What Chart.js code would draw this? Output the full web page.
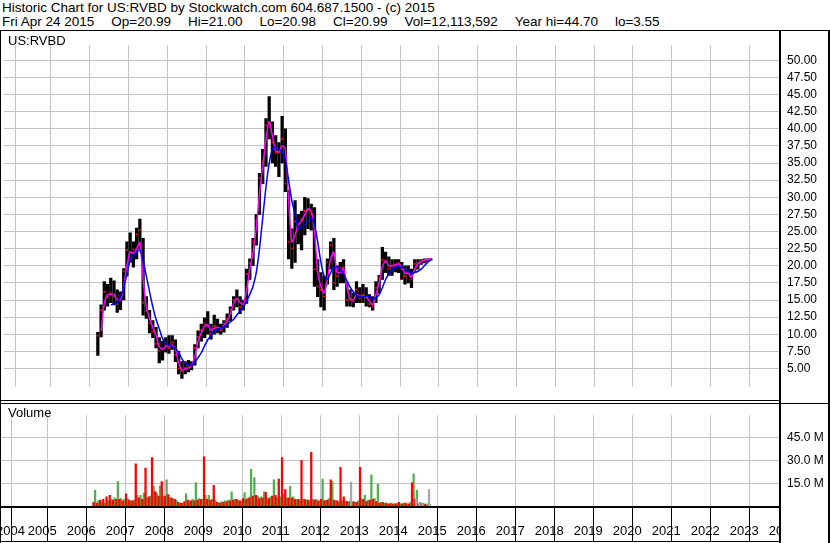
<!DOCTYPE html>
<html lang="en">
<head>
<meta charset="UTF-8">
<title>Historic Chart US:RVBD</title>
<script src="https://cdn.jsdelivr.net/npm/chart.js@4.4.1/dist/chart.umd.min.js"></script>
<style>
	body{margin:0;background:#fff;font-family:"Liberation Sans",Arial,sans-serif;}
	#page{position:relative;width:830px;height:543px;overflow:hidden;background:#fff;}
	.hd{position:absolute;left:2px;font-size:13.5px;line-height:14px;white-space:pre;color:#000;}
	.hd span{margin-left:17px;}
	.hd span:first-child{margin-left:0;}
	#topline{position:absolute;left:0;top:30px;width:830px;height:1px;background:#000;}
	.box{position:absolute;left:0;}
	.tag{position:absolute;left:8px;font-size:13px;color:#000;z-index:2;}
</style>
</head>
<body>
<div id="page">
	<div class="hd" style="top:1px">Historic Chart for US:RVBD by Stockwatch.com 604.687.1500 - (c) 2015</div>
	<div class="hd" style="top:15px"><span>Fri Apr 24 2015</span><span>Op=20.99</span><span>Hi=21.00</span><span>Lo=20.98</span><span>Cl=20.99</span><span>Vol=12,113,592</span><span>Year hi=44.70</span><span>lo=3.55</span></div>
	<div id="topline"></div>
	<div class="box" style="top:31px"><canvas id="priceChart" width="830" height="370"></canvas></div>
	<div class="box" style="top:401px"><canvas id="volChart" width="830" height="142"></canvas></div>
	<div class="tag" style="top:33px">US:RVBD</div>
	<div class="tag" style="top:405px">Volume</div>
</div>
<script>
// monthly bars, first month is Sep 2006
var FIRST_MONTH = '2006-09';

var PRICE_LO = [
	6.9, 9.6, 13.5, 14.1,
	14.6, 14.3, 13.2, 13.6, 15.0, 18.5, 20.5, 19.8, 21.0, 22.5, 12.8, 12.3,
	10.2, 9.5, 8.0, 5.8, 6.2, 7.4, 7.2, 7.8, 6.0, 4.2, 3.55, 4.2,
	4.5, 4.8, 5.5, 8.0, 9.0, 9.5, 10.0, 9.3, 10.0, 10.2, 10.0, 10.3,
	11.0, 12.0, 13.5, 14.0, 13.0, 13.5, 14.5, 18.0, 20.0, 23.0, 27.5, 32.0,
	34.5, 38.5, 35.0, 34.5, 33.0, 35.0, 30.8, 21.0, 19.6, 20.5, 23.2, 22.3,
	24.5, 25.4, 25.2, 17.0, 15.5, 14.0, 13.5, 17.3, 19.5, 16.5, 17.0, 17.5,
	17.5, 14.1, 14.1, 14.0, 14.6, 14.6, 14.6, 14.1, 14.0, 13.5, 14.6, 16.0,
	18.0, 19.0, 18.6, 18.6, 19.1, 19.0, 18.0, 17.3, 17.5, 16.8, 19.0, 19.5,
	20.2, 20.4, 20.6, 20.8
];
var PRICE_HI = [
	10.3, 14.3, 17.7, 17.3,
	18.2, 17.8, 16.5, 16.2, 19.6, 23.5, 24.8, 23.5, 25.5, 26.8, 24.0, 15.5,
	13.5, 12.0, 11.0, 9.5, 9.0, 9.5, 9.8, 9.8, 9.2, 7.5, 6.0, 6.0,
	6.2, 6.0, 8.5, 10.5, 11.5, 12.4, 13.3, 11.5, 12.8, 12.2, 11.5, 12.0,
	13.0, 14.0, 15.5, 16.5, 15.5, 15.0, 19.5, 21.0, 24.0, 27.5, 33.5, 37.0,
	41.5, 44.7, 41.0, 39.0, 38.0, 41.8, 40.0, 31.0, 25.4, 29.5, 27.5, 28.0,
	30.0, 29.8, 29.0, 28.5, 20.9, 19.0, 18.5, 21.0, 23.5, 24.0, 20.0, 20.5,
	20.9, 17.7, 16.5, 16.0, 17.7, 16.8, 17.3, 16.8, 15.8, 15.5, 17.7, 18.6,
	22.7, 22.0, 21.3, 20.9, 20.9, 20.9, 20.5, 20.0, 20.0, 19.5, 20.9, 20.9,
	20.9, 21.0, 21.0, 21.0
];
var PRICE_CL = [
	9.8, 13.5, 16.2, 15.4,
	16.0, 15.5, 14.4, 15.6, 19.2, 22.3, 22.0, 22.4, 24.6, 25.2, 14.6, 13.4,
	11.6, 10.4, 8.6, 7.6, 7.8, 8.4, 8.0, 8.8, 7.0, 5.0, 4.6, 5.1,
	5.2, 5.6, 8.0, 9.6, 10.6, 11.6, 11.2, 10.1, 11.2, 11.0, 10.6, 11.6,
	12.2, 13.6, 15.0, 15.2, 14.0, 14.4, 18.8, 20.4, 23.5, 26.5, 32.8, 35.2,
	40.5, 41.0, 38.0, 36.5, 36.5, 38.5, 32.0, 23.5, 22.5, 26.5, 25.5, 26.8,
	28.0, 28.2, 27.5, 19.5, 17.0, 16.5, 15.5, 20.5, 23.0, 17.5, 18.5, 19.7,
	19.8, 15.0, 15.0, 14.8, 16.5, 15.2, 15.8, 15.4, 14.4, 14.0, 16.8, 18.2,
	20.8, 20.8, 19.6, 20.0, 20.2, 20.4, 19.5, 18.5, 19.0, 18.0, 20.3, 20.4,
	20.6, 20.8, 20.9, 20.99
];
// short moving average (magenta)
var MA_FAST = [
	null, 10.5, 14.5, 15.8,
	15.8, 15.8, 15.0, 15.0, 17.0, 20.0, 22.0, 21.8, 22.5, 23.4, 18.0, 14.0,
	12.3, 11.0, 9.8, 8.2, 7.8, 8.2, 8.3, 8.4, 7.8, 5.8, 4.8, 4.9,
	5.1, 5.4, 6.8, 9.0, 10.2, 11.2, 11.4, 10.6, 10.9, 11.0, 10.8, 11.3,
	12.0, 13.0, 14.5, 15.2, 14.6, 14.4, 16.5, 19.5, 22.0, 25.5, 30.5, 34.5,
	38.5, 41.0, 39.0, 36.8, 36.6, 37.5, 37.0, 29.5, 23.5, 24.5, 26.0, 26.5,
	27.5, 28.3, 28.0, 25.0, 19.0, 17.0, 16.0, 18.0, 21.0, 22.0, 19.0, 19.0,
	19.6, 17.0, 15.2, 15.0, 15.8, 15.6, 15.6, 15.5, 14.8, 14.3, 15.8, 17.5,
	19.8, 20.7, 20.0, 20.0, 20.1, 20.3, 19.8, 18.9, 18.9, 18.3, 19.5, 20.3,
	20.6, 20.8, 20.9, 21.0
];
// long moving average (blue)
var MA_SLOW = [
	null, null, null, null,
	14.3, 14.4, 14.6, 15.5, 16.8, 18.8, 20.8, 21.5, 22.0, 22.3, 20.8, 18.5,
	16.2, 14.0, 12.2, 10.8, 9.4, 8.6, 8.4, 8.2, 7.9, 7.3, 6.4, 5.8,
	5.5, 5.5, 5.9, 6.6, 7.3, 8.3, 9.2, 9.8, 10.4, 10.7, 10.9, 11.1,
	11.4, 11.8, 12.2, 12.8, 13.4, 14.0, 14.8, 15.8, 17.0, 19.0, 22.5, 27.0,
	31.5, 35.0, 37.0, 37.3, 37.0, 36.6, 35.5, 32.5, 29.5, 27.5, 25.5, 25.6,
	26.0, 26.6, 27.0, 26.0, 23.5, 20.5, 18.5, 18.0, 19.0, 19.8, 19.8, 19.4,
	18.8, 17.8, 16.9, 16.2, 15.7, 15.5, 15.5, 15.6, 15.5, 15.2, 15.3, 15.8,
	16.8, 18.0, 18.8, 19.4, 19.8, 19.9, 19.8, 19.5, 19.2, 18.9, 19.0, 19.2,
	19.5, 20.0, 20.5, 20.9
];
// volume in millions
var VOL_UP = [
	10.8, 4.0, 3.0, 2.5,
	4.0, 5.0, 6.0, 16.5, 5.5, 5.0, 5.5, 4.0, 4.5, 7.5, 7.5, 9.0,
	6.0, 7.0, 13.3, 9.0, 13.7, 6.5, 17.5, 6.0, 5.5, 4.5, 2.5, 2.5,
	8.5, 4.0, 5.0, 15.8, 5.5, 5.0, 7.5, 7.5, 5.0, 4.5, 3.0, 3.5,
	4.0, 4.5, 9.8, 5.0, 4.5, 4.0, 9.4, 6.0, 24.4, 19.0, 7.0, 6.5,
	9.8, 6.0, 6.5, 17.5, 6.0, 6.5, 8.0, 6.0, 13.3, 6.5, 5.0, 4.5,
	5.0, 4.5, 4.0, 5.0, 5.0, 4.0, 18.0, 4.5, 5.5, 16.5, 4.0, 3.5,
	4.0, 4.0, 3.5, 3.0, 3.0, 4.0, 5.0, 7.5, 4.5, 20.8, 5.5, 14.6,
	3.0, 2.5, 2.0, 2.5, 2.0, 2.5, 2.0, 2.5, 2.0, 3.0, 21.5, 10.8,
	3.0, 2.5, 2.0, 1.5
];
var VOL_DN = [
	3.0, 2.5, 4.5, 5.0,
	6.5, 7.5, 4.5, 5.0, 5.0, 4.0, 8.5, 4.5, 4.0, 28.0, 6.0, 5.0,
	25.2, 6.5, 32.0, 10.0, 7.0, 16.5, 7.0, 8.0, 6.0, 5.0, 3.0, 2.5,
	3.5, 4.5, 4.0, 4.0, 4.5, 5.0, 32.5, 5.0, 4.5, 14.0, 3.0, 2.5,
	3.0, 3.5, 4.0, 4.5, 5.0, 4.0, 5.5, 5.0, 6.0, 7.0, 7.5, 5.5,
	6.0, 9.5, 5.5, 7.0, 7.5, 18.0, 32.0, 11.3, 6.0, 6.0, 5.0, 5.0,
	30.2, 5.0, 4.5, 35.4, 4.5, 4.0, 5.0, 4.0, 4.5, 17.5, 4.5, 4.0,
	25.6, 6.5, 3.5, 3.5, 3.5, 3.0, 25.6, 5.0, 3.5, 4.5, 5.0, 3.5,
	2.5, 3.0, 2.5, 2.0, 2.0, 2.0, 3.0, 2.0, 2.5, 2.0, 15.6, 5.0,
	2.0, 2.0, 1.5, 1.0
];
// unchanged-close weeks (grey)
var FLAT_MONTHS = ['2013-04', '2014-12', '2015-01', '2015-02', '2015-04'];
var FLAT_VOL = [16.2, 5.5, 2.5, 2.0, 11.2];

var YEARS = [2004, 2005, 2006, 2007, 2008, 2009, 2010, 2011, 2012, 2013, 2014,
	2015, 2016, 2017, 2018, 2019, 2020, 2021, 2022, 2023, 2024];
var PRICE_TICKS = [5, 7.5, 10, 12.5, 15, 17.5, 20, 22.5, 25, 27.5, 30, 32.5, 35,
	37.5, 40, 42.5, 45, 47.5, 50];
var VOL_TICKS = [15, 30, 45];

var X_MIN = 2004.29, X_MAX = 2024.29;

// month labels
var MONTHS = [];
(function(){
	var y = +FIRST_MONTH.split('-')[0], m = +FIRST_MONTH.split('-')[1];
	for (var i = 0; i < PRICE_HI.length; i++) {
		MONTHS.push(y + '-' + (m < 10 ? '0' + m : m));
		m++; if (m > 12) { m = 1; y++; }
	}
})();
function monthX(s) {
	var p = s.split('-');
	return +p[0] + (+p[1] - 0.5) / 12;
}
function series(arr) {
	return MONTHS.map(function(m, i){ return {x: monthX(m), y: arr[i]}; });
}

Chart.defaults.font.family = '"Liberation Sans", Arial, sans-serif';
Chart.defaults.font.size = 12;
Chart.defaults.color = '#000';

var GRID = '#c4c4c4';

function yearTicks(scale) {
	scale.ticks = YEARS.map(function(y){ return {value: Math.max(y, X_MIN - 0.1)}; });
}

// black frame lines around the panels
function framePlugin(lines, mask) {
	return {
		id: 'frame',
		afterDraw: function(chart) {
			var c = chart.ctx;
			c.save();
			if (mask) { c.fillStyle = '#fff'; c.fillRect(mask[0], mask[1], mask[2], mask[3]); }
			c.fillStyle = '#000';
			lines.forEach(function(r){ c.fillRect(r[0], r[1], r[2], r[3]); });
			c.restore();
		}
	};
}

new Chart(document.getElementById('priceChart'), {
	type: 'bar',
	data: {
		datasets: [{
			type: 'line',
			data: series(MA_SLOW),
			borderColor: '#0000ff',
			borderWidth: 1.5,
			pointRadius: 0,
			tension: 0.25,
			order: 0
		}, {
			type: 'line',
			data: series(MA_FAST),
			borderColor: '#ff00ff',
			borderWidth: 1.5,
			pointRadius: 0,
			tension: 0.25,
			order: 1
		}, {
			type: 'line',
			data: series(PRICE_CL),
			showLine: false,
			pointStyle: 'rect',
			pointRadius: 1.3,
			pointBorderWidth: 0,
			pointBackgroundColor: '#ff0000',
			order: 2
		}, {
			type: 'bar',
			data: MONTHS.map(function(m, i){ return {x: monthX(m), y: [PRICE_LO[i], PRICE_HI[i]]}; }),
			backgroundColor: '#000',
			barThickness: 2.6,
			order: 3
		}]
	},
	options: {
		responsive: false,
		animation: false,
		layout: {padding: 0},
		plugins: {legend: {display: false}, tooltip: {enabled: false}},
		scales: {
			x: {
				type: 'linear', min: X_MIN, max: X_MAX, offset: false,
				afterBuildTicks: yearTicks,
				afterFit: function(s){ s.height = 0; },
				ticks: {display: false},
				grid: {color: GRID, drawTicks: false},
				border: {display: false}
			},
			y: {
				position: 'right',
				min: 2.33, max: 52.2,
				afterBuildTicks: function(s){ s.ticks = PRICE_TICKS.map(function(v){ return {value: v}; }); },
				afterFit: function(s){ s.width = 50; },
				ticks: {padding: 7, callback: function(v){ return v.toFixed(2); }},
				grid: {color: GRID, drawTicks: false},
				border: {display: false}
			}
		}
	},
	plugins: [framePlugin([[0, 0, 1, 370], [779, 0, 2, 370], [828, 0, 2, 370], [0, 369, 781, 1]])]
});

new Chart(document.getElementById('volChart'), {
	type: 'bar',
	data: {
		datasets: [{
			data: series(VOL_UP),
			backgroundColor: '#4cb34c',
			barThickness: 1.6,
			order: 2
		}, {
			data: series(VOL_DN),
			backgroundColor: '#ff0000',
			barThickness: 1.6,
			order: 1
		}, {
			data: FLAT_MONTHS.map(function(m, i){ return {x: monthX(m), y: FLAT_VOL[i]}; }),
			backgroundColor: '#a8a8a8',
			barThickness: 1.6,
			grouped: false,
			order: 0
		}]
	},
	options: {
		responsive: false,
		animation: false,
		layout: {padding: {top: 3}},
		plugins: {legend: {display: false}, tooltip: {enabled: false}},
		scales: {
			x: {
				type: 'linear', min: X_MIN, max: X_MAX, offset: false,
				afterBuildTicks: yearTicks,
				afterFit: function(s){ s.height = 36; },
				ticks: {
					autoSkip: false, maxRotation: 0, align: 'start', padding: -17,
					font: {size: 13},
					callback: function(v, i){ return String(YEARS[i]); }
				},
				grid: {color: GRID, tickColor: '#000', tickLength: 34},
				border: {display: false}
			},
			y: {
				position: 'right',
				min: 0, max: 59.4,
				afterBuildTicks: function(s){ s.ticks = VOL_TICKS.map(function(v){ return {value: v}; }); },
				afterFit: function(s){ s.width = 50; },
				ticks: {padding: 7, callback: function(v){ return v.toFixed(1) + ' M'; }},
				grid: {color: GRID, drawTicks: false},
				border: {display: false}
			}
		}
	},
	plugins: [framePlugin(
		[[0, 0, 1, 142], [0, 2, 830, 1], [779, 0, 2, 142], [828, 0, 2, 142], [0, 105, 781, 2], [0, 140, 781, 1]],
		[781, 107, 47, 33]
	)]
});
</script>
</body>
</html>
